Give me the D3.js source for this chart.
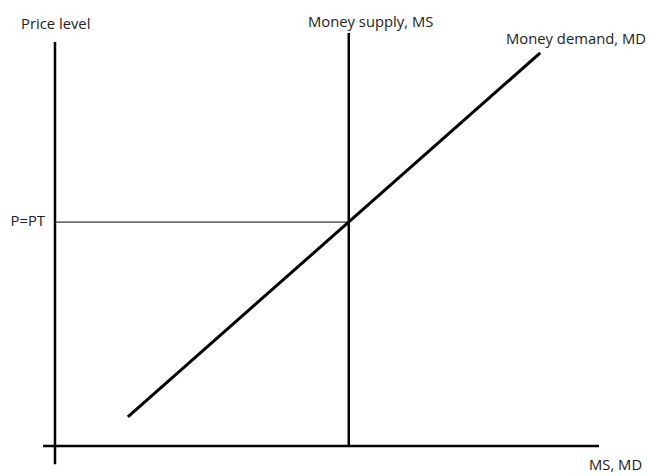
<!DOCTYPE html>
<html>
<head>
<meta charset="utf-8">
<script src="https://cdn.jsdelivr.net/npm/d3@7"></script>
<style>
  html, body { margin: 0; padding: 0; background: #fff; }
  svg text { font-family: "Open Sans", "Noto Sans", sans-serif; fill: #222; }
</style>
</head>
<body>
<svg id="chart" width="649" height="476"></svg>
<script>
// ---- data ----
const xAxisExtent = [-2.2, 100];      // quantity axis extent (MS, MD)
const yAxisExtent = [-4.5, 100];      // price axis extent
const moneySupplyX = [54];            // vertical MS line position
const moneySupplyY = [0, 102.2];      // MS line span
const moneyDemandX = [13.4, 89.2];    // MD line endpoints (quantity)
const moneyDemandY = [7.2, 97.3];     // MD line endpoints (price)
const equilibriumPrice = [55.4];      // P = PT
const labels = ["Price level", "Money supply, MS", "Money demand, MD", "P=PT", "MS, MD"];

// ---- scales ----
const svg = d3.select("#chart");
const x = d3.scaleLinear().domain([0, 100]).range([55, 599]);
const y = d3.scaleLinear().domain([0, 100]).range([446, 42]);

// axes
svg.append("line")
  .attr("x1", x(0)).attr("x2", x(0))
  .attr("y1", y(yAxisExtent[0])).attr("y2", y(yAxisExtent[1]))
  .attr("stroke", "#000").attr("stroke-width", 2.5);
svg.append("line")
  .attr("x1", x(xAxisExtent[0])).attr("x2", x(xAxisExtent[1]))
  .attr("y1", y(0)).attr("y2", y(0))
  .attr("stroke", "#000").attr("stroke-width", 2.5);

// equilibrium price guide line
svg.append("line")
  .attr("x1", x(0)).attr("x2", x(moneySupplyX[0]))
  .attr("y1", y(equilibriumPrice[0])).attr("y2", y(equilibriumPrice[0]))
  .attr("stroke", "#333").attr("stroke-width", 1.2);

// money supply
svg.append("line")
  .attr("x1", x(moneySupplyX[0])).attr("x2", x(moneySupplyX[0]))
  .attr("y1", y(moneySupplyY[0])).attr("y2", y(moneySupplyY[1]))
  .attr("stroke", "#000").attr("stroke-width", 2.5);

// money demand
const mdPts = moneyDemandX.map((v, i) => [v, moneyDemandY[i]]);
svg.append("path")
  .datum(mdPts)
  .attr("d", d3.line().x(d => x(d[0])).y(d => y(d[1])))
  .attr("fill", "none").attr("stroke", "#000").attr("stroke-width", 3);

// labels
const fs = 14.8;
svg.append("text").attr("x", 21).attr("y", 29).attr("font-size", fs).text(labels[0]);
svg.append("text").attr("x", 308).attr("y", 27).attr("font-size", fs).text(labels[1]);
svg.append("text").attr("x", 506).attr("y", 44).attr("font-size", fs).text(labels[2]);
svg.append("text").attr("x", 45).attr("y", 226).attr("text-anchor", "end").attr("font-size", fs).text(labels[3]);
svg.append("text").attr("x", 589).attr("y", 470).attr("font-size", fs).text(labels[4]);
</script>
</body>
</html>
